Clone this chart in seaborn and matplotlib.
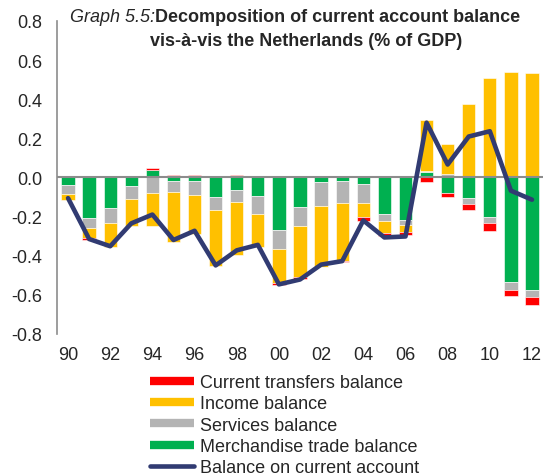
import numpy as np
import pandas as pd
import matplotlib
matplotlib.use("Agg")
import matplotlib.pyplot as plt
from matplotlib.lines import Line2D
import seaborn as sns

# data (% of GDP)
years = list(range(1990, 2013))
tick_labels = ["90", "92", "94", "96", "98", "00", "02", "04", "06", "08", "10", "12"]
merchandise = [-0.037, -0.208, -0.154, -0.044, 0.040, -0.018, -0.017, -0.102, -0.062, -0.094, -0.267, -0.153,
               -0.022, -0.017, -0.032, -0.185, -0.218, 0.030, -0.080, -0.107, -0.205, -0.537, -0.574]
services = [-0.049, -0.049, -0.080, -0.064, -0.082, -0.059, -0.072, -0.065, -0.062, -0.091, -0.101, -0.097,
            -0.126, -0.112, -0.097, -0.037, -0.025, 0.005, 0.017, -0.027, -0.030, -0.037, -0.039]
income = [-0.029, -0.055, -0.121, -0.139, -0.164, -0.255, -0.200, -0.288, -0.272, -0.169, -0.173, -0.260,
          -0.309, -0.297, -0.074, -0.062, -0.037, 0.260, 0.154, 0.377, 0.508, 0.538, 0.533]
transfers = [0.000, -0.007, 0.000, 0.005, 0.008, 0.010, 0.013, 0.008, 0.010, 0.003, -0.007, -0.012,
             -0.003, -0.007, -0.022, -0.017, -0.017, -0.022, -0.020, -0.034, -0.037, -0.030, -0.037]
current = [-0.106, -0.315, -0.352, -0.235, -0.190, -0.320, -0.273, -0.450, -0.373, -0.345, -0.547, -0.522,
           -0.446, -0.428, -0.220, -0.307, -0.302, 0.280, 0.066, 0.209, 0.236, -0.068, -0.114]
y_ticks = [-0.8, -0.6, -0.4, -0.2, 0.0, 0.2, 0.4, 0.6, 0.8]

sns.set_style("white")
plt.rcParams['font.family'] = ['Liberation Sans', 'DejaVu Sans']

# stacking order from zero outwards
layers = [
    ("Merchandise trade balance", merchandise, "#00B050"),
    ("Services balance", services, "#B4B4B4"),
    ("Income balance", income, "#FFC000"),
    ("Current transfers balance", transfers, "#FF0000"),
]
line_color = "#313B72"
fs = 13

fig = plt.figure(figsize=(5.45, 4.77), dpi=100)
ax = fig.add_axes([0.1055, 0.298, 0.89, 0.656])

x = np.arange(len(years))
pos_bottom = np.zeros(len(years))
neg_bottom = np.zeros(len(years))
for name, vals, color in layers:
    v = np.array(vals)
    bottom = np.where(v >= 0, pos_bottom, neg_bottom)
    ax.bar(x, v, bottom=bottom, width=0.63, color=color, edgecolor="white", linewidth=0.4)
    pos_bottom += np.where(v >= 0, v, 0)
    neg_bottom += np.where(v < 0, v, 0)

ax.axhline(0, color="#8C8C8C", linewidth=1.5, zorder=3)

df = pd.DataFrame({"pos": x, "current": current})
sns.lineplot(data=df, x="pos", y="current", ax=ax, color=line_color, linewidth=3.3, zorder=4)

ax.set_xlim(-0.5, len(years) - 0.5)
ax.set_ylim(-0.8, 0.8)
ax.set_yticks(y_ticks)
ax.set_yticklabels([f"{t:.1f}" for t in y_ticks], fontsize=fs)
ax.set_xticks(x[::2])
ax.set_xticklabels(tick_labels, fontsize=fs)
ax.tick_params(axis="y", length=0, pad=11)
ax.tick_params(axis="x", length=0, pad=9)
ax.set_xlabel("")
ax.set_ylabel("")
for s in ["top", "right", "bottom"]:
    ax.spines[s].set_visible(False)
ax.spines["left"].set_color("#8C8C8C")
ax.spines["left"].set_linewidth(1.2)

# title
fig.text(155 / 545, 1 - 18 / 477, "Graph 5.5:", fontsize=fs, style="italic", ha="right", va="center")
fig.text(155 / 545, 1 - 18 / 477, "Decomposition of current account balance", fontsize=fs,
         fontweight="bold", ha="left", va="center")
fig.text(306 / 545, 1 - 41 / 477, "vis-à-vis the Netherlands (% of GDP)", fontsize=fs,
         fontweight="bold", ha="center", va="center")

# legend
handles = [Line2D([0], [0], color=c, linewidth=6, solid_capstyle="butt") for _, _, c in layers[::-1]]
labels = [n for n, _, _ in layers[::-1]]
handles.append(Line2D([0], [0], color=line_color, linewidth=3.3, solid_capstyle="round"))
labels.append("Balance on current account")
fig.legend(handles, labels, loc="upper left", bbox_to_anchor=(150 / 545, 1 - 375 / 477),
           frameon=False, fontsize=fs, handlelength=2.45, handletextpad=0.3,
           labelspacing=0.24, borderpad=0, borderaxespad=0)

fig.savefig("out.png", dpi=100)
